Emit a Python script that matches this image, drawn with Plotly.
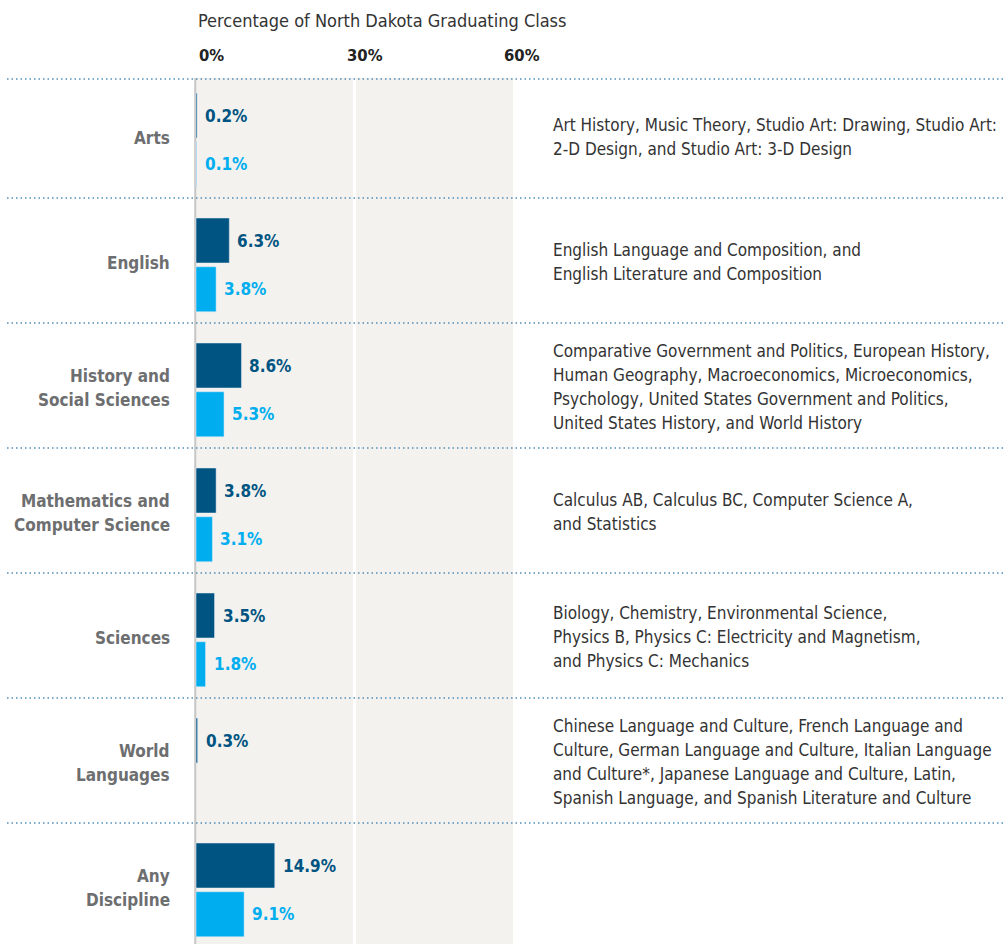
import plotly.graph_objects as go

categories = [["Arts"], ["English"], ["History and", "Social Sciences"],
              ["Mathematics and", "Computer Science"], ["Sciences"],
              ["World", "Languages"], ["Any", "Discipline"]]
series_dark = [0.2, 6.3, 8.6, 3.8, 3.5, 0.3, 14.9]
series_light = [0.1, 3.8, 5.3, 3.1, 1.8, None, 9.1]
descriptions = [
    ["Art History, Music Theory, Studio Art: Drawing, Studio Art:",
     "2-D Design, and Studio Art: 3-D Design"],
    ["English Language and Composition, and",
     "English Literature and Composition"],
    ["Comparative Government and Politics, European History,",
     "Human Geography, Macroeconomics, Microeconomics,",
     "Psychology, United States Government and Politics,",
     "United States History, and World History"],
    ["Calculus AB, Calculus BC, Computer Science A,",
     "and Statistics"],
    ["Biology, Chemistry, Environmental Science,",
     "Physics B, Physics C: Electricity and Magnetism,",
     "and Physics C: Mechanics"],
    ["Chinese Language and Culture, French Language and",
     "Culture, German Language and Culture, Italian Language",
     "and Culture*, Japanese Language and Culture, Latin,",
     "Spanish Language, and Spanish Literature and Culture"],
    [],
]
tick_values = [0, 30, 60]
tick_labels = ["0%", "30%", "60%"]
axis_title = "Percentage of North Dakota Graduating Class"

DARK = "#005482"
LIGHT = "#00aeef"
GRAY_LABEL = "#6d6e70"
TEXT = "#333333"
NARROW = "DejaVu Sans Condensed, Roboto, sans-serif"
LINE_H = 24

rows = list(range(len(categories)))
BAR_W = 0.36
DARK_OFF = -0.34
LIGHT_OFF = 0.05

fig = go.Figure()
fig.add_trace(go.Bar(y=rows, x=series_dark, orientation="h", marker_color=DARK,
                     width=BAR_W, offset=DARK_OFF, hoverinfo="skip"))
fig.add_trace(go.Bar(y=rows, x=series_light, orientation="h", marker_color=LIGHT,
                     width=BAR_W, offset=LIGHT_OFF, hoverinfo="skip"))

shapes = [
    dict(type="rect", xref="x", yref="paper", x0=0, x1=60, y0=0, y1=1,
         fillcolor="#f3f2ee", line_width=0, layer="below"),
    dict(type="line", xref="x", yref="paper", x0=30, x1=30, y0=0, y1=1,
         line=dict(color="white", width=3), layer="below"),
    dict(type="line", xref="x", yref="paper", x0=-0.15, x1=-0.15, y0=0, y1=1,
         line=dict(color="#c6c6c6", width=2), layer="below"),
]
sep_positions = [-0.452] + [r + 0.5 for r in rows[:-1]]
for yv in sep_positions:
    shapes.append(dict(type="line", xref="paper", yref="y", x0=0.007, x1=1,
                       y0=yv, y1=yv, line=dict(color="#4f8cb8", width=1.5, dash="1.5px,3px")))

ann = []
ann.append(dict(x=0, y=1, xref="x", yref="paper", text=axis_title, showarrow=False,
                xanchor="left", yanchor="middle", xshift=0, yshift=58,
                font=dict(family=NARROW, size=18, color=TEXT)))
tick_shift = {0: 1, 30: -10, 60: -11}
for tv, tl in zip(tick_values, tick_labels):
    ann.append(dict(x=tv, y=1, xref="x", yref="paper", text=tl, showarrow=False,
                    xanchor="left", yanchor="middle", xshift=tick_shift[tv], yshift=23,
                    font=dict(family=NARROW, size=16.5, color="#222222", weight="bold")))


def add_lines(lines, r, xpaper, anchor, font, base_shift):
    n = len(lines)
    for k, line in enumerate(lines):
        ann.append(dict(x=xpaper, y=r, xref="paper", yref="y", text=line, showarrow=False,
                        xanchor=anchor, yanchor="middle", align=anchor,
                        yshift=base_shift - (k - (n - 1) / 2) * LINE_H, font=font))


for r, cat, d, l, desc in zip(rows, categories, series_dark, series_light, descriptions):
    add_lines(cat, r, 172 / 1005, "right",
              dict(family=NARROW, size=17, color=GRAY_LABEL, weight="bold"), -2)
    if d is not None:
        ann.append(dict(x=d, y=r + DARK_OFF + BAR_W / 2, xref="x", yref="y", text=f"{d}%",
                        showarrow=False, xanchor="left", yanchor="middle", xshift=6,
                        font=dict(family=NARROW, size=17, color=DARK, weight="bold")))
    if l is not None:
        ann.append(dict(x=l, y=r + LIGHT_OFF + BAR_W / 2, xref="x", yref="y", text=f"{l}%",
                        showarrow=False, xanchor="left", yanchor="middle", xshift=6,
                        font=dict(family=NARROW, size=17, color=LIGHT, weight="bold")))
    add_lines(desc, r, 551 / 1005, "left", dict(family=NARROW, size=17, color=TEXT), -1.5)

fig.update_layout(
    width=1005, height=944,
    margin=dict(l=0, r=0, t=78, b=0),
    paper_bgcolor="white", plot_bgcolor="white",
    showlegend=False, barmode="overlay",
    xaxis=dict(range=[-37.1, 153.1], visible=False, fixedrange=True),
    yaxis=dict(range=[6.468, -0.46], visible=False, fixedrange=True),
    shapes=shapes, annotations=ann,
)
fig.write_html("out.html")
